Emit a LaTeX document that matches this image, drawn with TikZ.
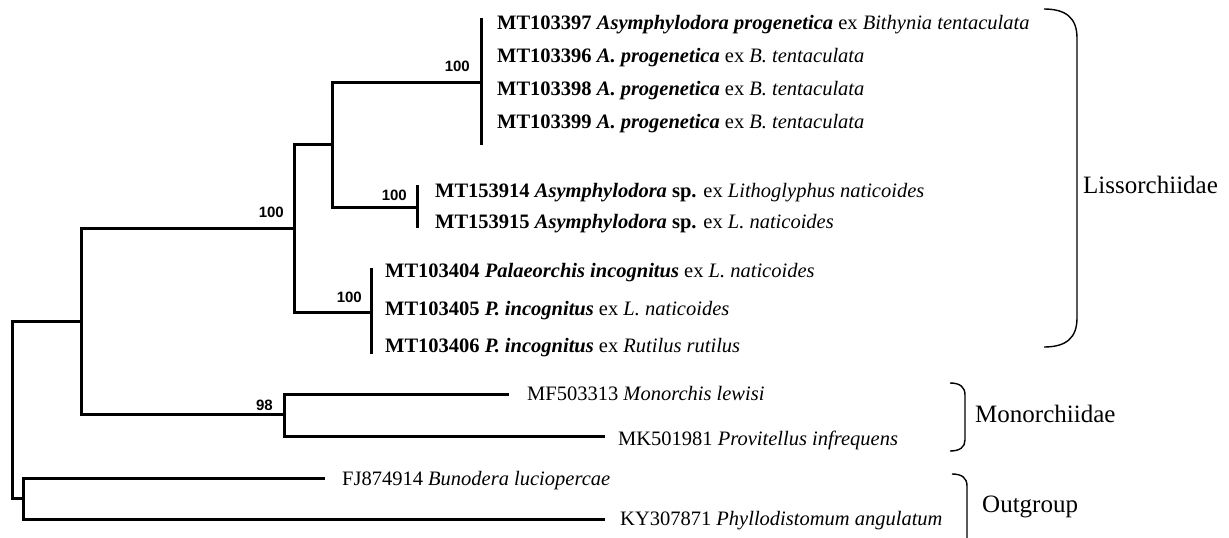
\documentclass[tikz,border=0pt]{standalone}
\usepackage{fontspec}
\setmainfont{Liberation Serif}
\newfontfamily\bsfont{Liberation Sans}
\begin{document}
\begin{tikzpicture}[x=1pt,y=-1pt,
  branch/.style={line width=3pt, line join=miter},
  taxon/.style={anchor=base west, inner sep=0pt, font=\fontsize{20.5}{24}\selectfont},
  boot/.style={anchor=base east, inner sep=0pt, font=\bsfont\bfseries\fontsize{15}{16}\selectfont},
  family/.style={anchor=base west, inner sep=0pt, font=\fontsize{25}{30}\selectfont},
  bracket/.style={line width=1.4pt}]
\useasboundingbox (0,0) rectangle (1229,538);
% internal nodes
\coordinate (r) at (12,410);
\coordinate (A) at (81,321);
\coordinate (L) at (294,228);
\coordinate (L1) at (332,144);
\coordinate (Ap) at (481,82);
\coordinate (As) at (417,207);
\coordinate (P) at (371,312);
\coordinate (M) at (284,414);
\coordinate (O) at (23,498);
% bar ends
\coordinate (ApT) at (481,18);
\coordinate (ApB) at (481,145);
\coordinate (AsT) at (417,185);
\coordinate (AsB) at (417,228);
\coordinate (PT) at (371,268);
\coordinate (PB) at (371,354);
% tips
\coordinate (m1) at (509,394);
\coordinate (m2) at (605,436);
\coordinate (o1) at (325,478);
\coordinate (o2) at (605,519);
% branches
\draw[branch] (r) |- (A);
\draw[branch] (r) |- (O);
\draw[branch] (A) |- (L);
\draw[branch] (A) |- (M);
\draw[branch] (L) |- (L1);
\draw[branch] (L) |- (P);
\draw[branch] (L1) |- (Ap);
\draw[branch] (L1) |- (As);
\draw[branch] (M) |- (m1);
\draw[branch] (M) |- (m2);
\draw[branch] (O) |- (o1);
\draw[branch] (O) |- (o2);
\draw[branch] (ApT) -- (ApB);
\draw[branch] (AsT) -- (AsB);
\draw[branch] (PT) -- (PB);
% bootstrap values
\node[boot] (b1) at (470,71) {100};
\node[boot] (b2) at (407,200) {100};
\node[boot] (b3) at (284,217) {100};
\node[boot] (b4) at (362,302) {100};
\node[boot] (b5) at (273,410) {98};
% taxa
\node[taxon] (t1) at (497,29) {\textbf{MT103397} \textbf{\textit{Asymphylodora progenetica}} ex \textit{Bithynia tentaculata}};
\node[taxon] (t2) at (497,62) {\textbf{MT103396} \textbf{\textit{A. progenetica}} ex \textit{B. tentaculata}};
\node[taxon] (t3) at (497,95) {\textbf{MT103398} \textbf{\textit{A. progenetica}} ex \textit{B. tentaculata}};
\node[taxon] (t4) at (497,128) {\textbf{MT103399} \textbf{\textit{A. progenetica}} ex \textit{B. tentaculata}};
\node[taxon] (t5) at (435,197) {\textbf{MT153914} \textbf{\textit{Asymphylodora}} \textbf{sp.} ex \textit{Lithoglyphus naticoides}};
\node[taxon] (t6) at (435,228) {\textbf{MT153915} \textbf{\textit{Asymphylodora}} \textbf{sp.} ex \textit{L. naticoides}};
\node[taxon] (t7) at (385,277) {\textbf{MT103404} \textbf{\textit{Palaeorchis incognitus}} ex \textit{L. naticoides}};
\node[taxon] (t8) at (385,315) {\textbf{MT103405} \textbf{\textit{P. incognitus}} ex \textit{L. naticoides}};
\node[taxon] (t9) at (385,352) {\textbf{MT103406} \textbf{\textit{P. incognitus}} ex \textit{Rutilus rutilus}};
\node[taxon] (t10) at (527,400) {MF503313 \textit{Monorchis lewisi}};
\node[taxon] (t11) at (618,445) {MK501981 \textit{Provitellus infrequens}};
\node[taxon] (t12) at (342,485) {FJ874914 \textit{Bunodera luciopercae}};
\node[taxon] (t13) at (620,525) {KY307871 \textit{Phyllodistomum angulatum}};
% brackets
\draw[bracket] (1044,9) .. controls (1066,9) and (1077,18) .. (1077,38) -- (1077,318) .. controls (1077,338) and (1066,347) .. (1044,347);
\draw[bracket] (950,383) .. controls (960,383) and (965,387) .. (965,395) -- (965,440) .. controls (965,447) and (960,451) .. (950,451);
\draw[bracket] (952,474) .. controls (962,474) and (967,478) .. (967,486) -- (967,538);
\node[family] (f1) at (1083,193) {Lissorchiidae};
\node[family] (f2) at (975,422) {Monorchiidae};
\node[family] (f3) at (982,512) {Outgroup};
\end{tikzpicture}
\end{document}
